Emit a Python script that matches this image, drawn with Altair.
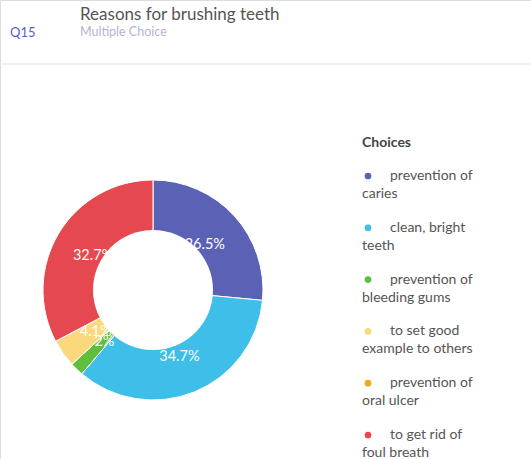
import altair as alt
import pandas as pd

# ---- data ----
categories = ["prevention of caries", "clean, bright teeth", "prevention of bleeding gums",
              "to set good example to others", "prevention of oral ulcer", "to get rid of foul breath"]
percent = [26.5, 34.7, 2.0, 4.1, 0.0, 32.7]
slice_labels = ["26.5%", "34.7%", "2%", "4.1%", "", "32.7%"]
legend_line1 = ["prevention of", "clean, bright", "prevention of", "to set good", "prevention of", "to get rid of"]
legend_line2 = ["caries", "teeth", "bleeding gums", "example to others", "oral ulcer", "foul breath"]
colors = ["#5b62b6", "#3dbfe9", "#5fbf3c", "#fcd87c", "#f5a524", "#e5484f"]

title_text = ["Reasons for brushing teeth"]
subtitle_text = ["Multiple Choice"]
qid_text = ["Q15"]
legend_title = ["Choices"]

df = pd.DataFrame({
    "cat": categories, "pct": percent, "lab": slice_labels,
    "l1": legend_line1, "l2": legend_line2, "idx": list(range(len(categories))),
})

CX, CY = 153, 290
R_OUT, R_IN = 110, 60

color = alt.Color("cat:N", scale=alt.Scale(domain=categories, range=colors), legend=None)
theta = alt.Theta("pct:Q", stack=True)
order = alt.Order("idx:Q", sort="ascending")

base = alt.Chart(df)

arcs = base.mark_arc(outerRadius=R_OUT, innerRadius=0, stroke="white", strokeWidth=1).encode(
    theta=theta, color=color, order=order, x=alt.value(CX), y=alt.value(CY)
)

labels = base.mark_text(radius=70, dy=2, font="Lato", fontSize=14.5, color="white").encode(
    theta=theta, text="lab:N", order=order, x=alt.value(CX), y=alt.value(CY)
)

hole = alt.Chart(pd.DataFrame({"v": [1]})).mark_arc(
    outerRadius=R_IN, innerRadius=0, theta=0, theta2=6.2832, color="white"
).encode(x=alt.value(CX), y=alt.value(CY))

yscale = alt.Scale(domain=[0, 5], range=[176, 435])
dots = base.mark_circle(size=45, opacity=1).encode(
    x=alt.value(368), y=alt.Y("idx:Q", scale=yscale, axis=None), color=color
)
leg1 = base.mark_text(align="left", baseline="middle", font="Lato", fontSize=14, color="#555555").encode(
    x=alt.value(390), y=alt.Y("idx:Q", scale=yscale, axis=None), text="l1:N"
)
leg2 = base.mark_text(align="left", baseline="middle", font="Lato", fontSize=14, color="#555555", dy=18).encode(
    x=alt.value(362), y=alt.Y("idx:Q", scale=yscale, axis=None), text="l2:N"
)

leg_title = alt.Chart(pd.DataFrame({"t": legend_title})).mark_text(
    align="left", baseline="middle", font="Lato", fontSize=14, fontWeight="bold", color="#444444"
).encode(x=alt.value(362), y=alt.value(143), text="t:N")

title = alt.Chart(pd.DataFrame({"t": title_text})).mark_text(
    align="left", baseline="middle", font="Lato", fontSize=17, color="#555555"
).encode(x=alt.value(80), y=alt.value(15), text="t:N")

subtitle = alt.Chart(pd.DataFrame({"t": subtitle_text})).mark_text(
    align="left", baseline="middle", font="Lato", fontSize=12.5, color="#b4b4d4"
).encode(x=alt.value(80), y=alt.value(32), text="t:N")

qid = alt.Chart(pd.DataFrame({"t": qid_text})).mark_text(
    align="left", baseline="middle", font="Lato", fontSize=13, color="#5a60b8"
).encode(x=alt.value(10), y=alt.value(33), text="t:N")

sep = alt.Chart(pd.DataFrame({"v": [1]})).mark_rule(color="#efefef", strokeWidth=2).encode(
    x=alt.value(2), x2=alt.value(531), y=alt.value(64)
)

chart = alt.layer(sep, qid, title, subtitle, arcs, labels, hole, leg_title, dots, leg1, leg2).properties(
    width=531, height=459, padding=0, autosize="none"
).configure_view(stroke=None).configure(background="white")

chart.save("out.html", embed_options={"renderer": "svg", "actions": False})
